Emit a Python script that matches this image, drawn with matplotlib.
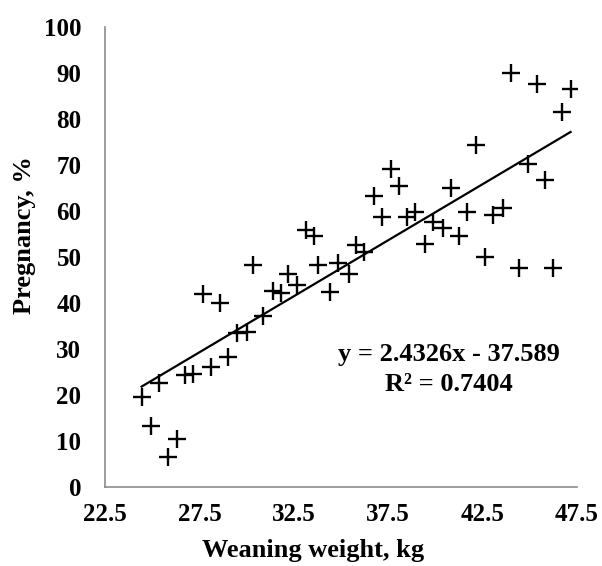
import numpy as np
import matplotlib
matplotlib.use("Agg")
import matplotlib.pyplot as plt

# weaning weight (kg) and pregnancy (%)
weaning_weight = [24.44, 24.92, 25.82, 26.29, 25.38, 26.74, 27.18, 28.12, 29.03,
                  27.67, 28.59, 29.47, 30.01, 30.35, 30.85, 31.41, 31.81, 32.21,
                  32.65, 33.80, 34.86, 35.44, 34.42, 42.63, 44.43, 46.25,
                  44.01, 45.37, 47.16, 46.72, 42.15, 44.89, 45.81, 37.64, 38.09,
                  36.75, 40.81, 37.19, 38.52, 38.90, 41.69, 43.07, 43.56, 39.85,
                  40.38, 41.27, 39.45, 33.15, 33.57, 35.79, 36.22]
pregnancy = [19.7, 13.3, 6.6, 10.4, 22.7, 24.3, 24.7, 26.2, 28.3,
             41.9, 40.1, 33.4, 33.7, 48.2, 37.1, 42.6, 42.1, 46.4,
             43.9, 48.2, 48.7, 46.4, 42.4, 50.0, 47.5, 47.5,
             90.0, 87.5, 86.5, 81.4, 74.3, 70.2, 66.8, 69.0, 65.5,
             63.2, 65.0, 58.7, 58.7, 59.7, 59.7, 59.0, 60.6, 57.6,
             56.2, 54.6, 52.8, 55.8, 54.6, 52.6, 51.0]

slope = 2.4326
intercept = -37.589
x_ticks = [22.5, 27.5, 32.5, 37.5, 42.5, 47.5]
y_ticks = [0, 10, 20, 30, 40, 50, 60, 70, 80, 90, 100]

plt.rcParams['font.family'] = ['Liberation Serif', 'DejaVu Serif']
plt.rcParams['font.weight'] = 'bold'

fig = plt.figure(figsize=(6.02, 5.66), dpi=100)
ax = fig.add_axes([0.1744, 0.139, 0.7841, 0.814])

ax.plot(weaning_weight, pregnancy, linestyle='none', marker='+',
        markersize=12.5, markeredgewidth=1.7, color='black')

xs = np.array([min(weaning_weight), max(weaning_weight)])
ax.plot(xs, slope * xs + intercept, color='black', linewidth=1.6)

ax.set_xlim(22.5, 47.5)
ax.set_ylim(0, 100)
ax.set_xticks(x_ticks)
ax.set_yticks(y_ticks)
ax.set_xticklabels(["22.5", "27.5", "32.5", "37.5", "42.5", "47.5"])
ax.tick_params(axis='both', length=0, labelsize=18)
ax.tick_params(axis='x', pad=11)
ax.tick_params(axis='y', pad=17)
for lab in ax.get_xticklabels() + ax.get_yticklabels():
    lab.set_fontweight('bold')

for side in ['top', 'right']:
    ax.spines[side].set_visible(False)
for side in ['left', 'bottom']:
    ax.spines[side].set_color('#8c8c8c')
    ax.spines[side].set_linewidth(1.2)

# axis titles sit where the original puts them (not centred on the axes)
fig.text(313 / 602, 1 - 550 / 566, "Weaning weight, kg", ha='center',
         va='center', fontsize=19, fontweight='bold')
fig.text(25 / 602, 1 - 235 / 566, "Pregnancy, %", ha='center', va='center',
         rotation=90, fontsize=19, fontweight='bold')

ax.text(40.72, 25.6, "y = 2.4326x - 37.589\nR² = 0.7404", ha='center',
        va='center', fontsize=19, fontweight='bold', linespacing=1.35)

fig.savefig("out.png", dpi=100)
